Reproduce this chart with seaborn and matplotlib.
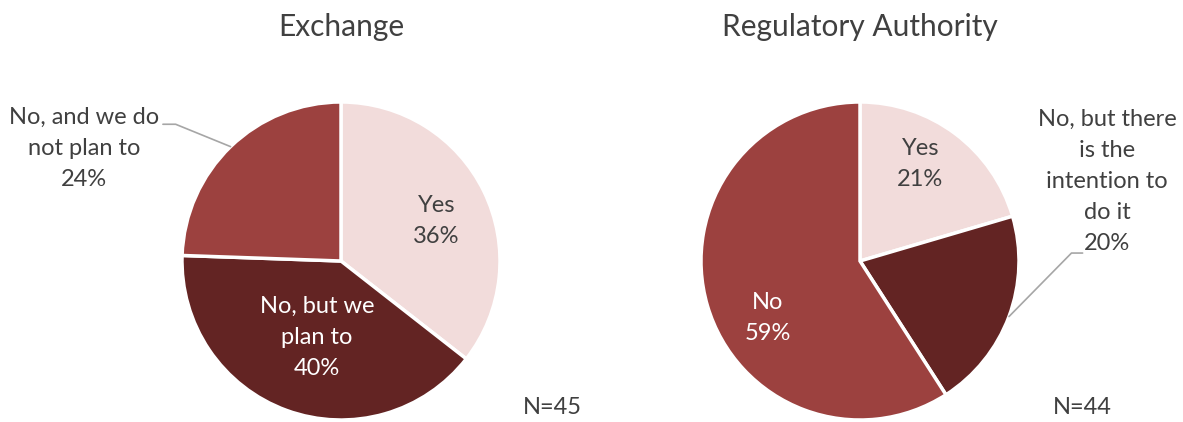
import numpy as np
import matplotlib.pyplot as plt
import seaborn as sns

# data (response counts)
categories_ex = ["Yes", "No, but we\nplan to", "No, and we do\nnot plan to"]
counts_ex = [16, 18, 11]
pct_ex = ["36%", "40%", "24%"]

categories_ra = ["Yes", "No, but there\nis the\nintention to\ndo it", "No"]
counts_ra = [9, 9, 26]
pct_ra = ["21%", "20%", "59%"]

titles = ["Exchange", "Regulatory Authority"]
n_labels = ["N=45", "N=44"]

sns.set_theme(style="white")
plt.rcParams['font.family'] = ['Lato', 'DejaVu Sans']

pal = sns.color_palette(["#F2DCDB", "#632423", "#9C413F"])
txt = "#404040"

W, H = 1183, 422
fig = plt.figure(figsize=(W / 100, H / 100), dpi=100)


def pie_axes(cx, cy, r):
    # pixel centre / radius -> figure fraction box
    ax = fig.add_axes([(cx - r) / W, (H - cy - r) / H, 2 * r / W, 2 * r / H])
    return ax


def draw(ax, counts, colors):
    wedges, _ = ax.pie(counts, colors=colors, startangle=90, counterclock=False,
                       wedgeprops=dict(edgecolor="white", linewidth=2.5))
    ax.set_xlim(-1, 1)
    ax.set_ylim(-1, 1)
    ax.set_aspect("equal")
    ax.axis("off")
    return wedges


def mid(w):
    a = np.deg2rad((w.theta1 + w.theta2) / 2)
    return np.cos(a), np.sin(a)


fs = 17
ls = 1.6

# ---- Exchange
ax1 = pie_axes(341, 261, 159)
w1 = draw(ax1, counts_ex, [pal[0], pal[1], pal[2]])
ax1.text(0.60, 0.25, categories_ex[0] + "\n" + pct_ex[0], ha="center", va="center",
         color=txt, fontsize=fs, linespacing=ls)
ax1.text(-0.15, -0.48, categories_ex[1] + "\n" + pct_ex[1], ha="center", va="center",
         color="white", fontsize=fs, linespacing=ls)
mx, my = mid(w1[2])
ax1.plot([-1.12, -1.04, mx], [0.86, 0.86, my], color="#A6A6A6", lw=1.2, clip_on=False)
ax1.text(-1.615, 0.71, categories_ex[2] + "\n" + pct_ex[2], ha="center", va="center",
         color=txt, fontsize=fs, linespacing=ls)
ax1.text(0, 1.47, titles[0], ha="center", va="center", color=txt, fontsize=21.5)
ax1.text(1.33, -0.92, n_labels[0], ha="center", va="center", color=txt, fontsize=fs)

# ---- Regulatory Authority
ax2 = pie_axes(860, 261, 159)
w2 = draw(ax2, counts_ra, [pal[0], pal[1], pal[2]])
ax2.text(0.38, 0.61, categories_ra[0] + "\n" + pct_ra[0], ha="center", va="center",
         color=txt, fontsize=fs, linespacing=ls)
ax2.text(-0.58, -0.36, categories_ra[2] + "\n" + pct_ra[2], ha="center", va="center",
         color="white", fontsize=fs, linespacing=ls)
mx, my = mid(w2[1])
ax2.plot([1.40, 1.33, mx], [0.05, 0.05, my], color="#A6A6A6", lw=1.2, clip_on=False)
ax2.text(1.555, 0.50, categories_ra[1] + "\n" + pct_ra[1], ha="center", va="center",
         color=txt, fontsize=fs, linespacing=ls)
ax2.text(0, 1.47, titles[1], ha="center", va="center", color=txt, fontsize=21.5)
ax2.text(1.40, -0.92, n_labels[1], ha="center", va="center", color=txt, fontsize=fs)

fig.savefig("out.png", dpi=100, facecolor="white")
